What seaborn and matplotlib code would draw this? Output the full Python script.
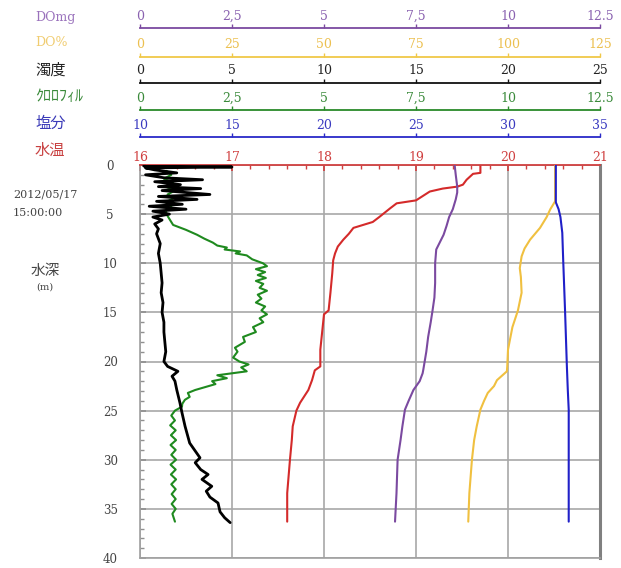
import matplotlib
matplotlib.use('Agg')
import matplotlib.pyplot as plt
import seaborn as sns
from matplotlib.ticker import MultipleLocator

# 水温 (deg C)
temp_depth = [0, 0.8, 0.9, 1.5, 2.0, 2.2, 2.4, 2.7, 3.3, 3.6, 3.9, 4.4, 5.3, 5.8, 6.4,
              7.0, 7.6, 8.3, 9.0, 9.7, 11, 13, 14.8, 15.2, 17, 18.8, 20.5, 20.9, 21.9,
              22.9, 24.2, 25.0, 26.6, 28, 30, 33.4, 36.3]
temp_vals = [19.70, 19.70, 19.62, 19.55, 19.51, 19.45, 19.29, 19.15, 19.05, 19.0, 18.79,
             18.72, 18.6, 18.53, 18.32, 18.27, 18.21, 18.15, 18.12, 18.10, 18.09, 18.07,
             18.05, 18.0, 17.98, 17.96, 17.96, 17.9, 17.87, 17.83, 17.74, 17.70, 17.66,
             17.65, 17.63, 17.6, 17.6]

# DOmg (mg/L)
domg_depth = [0, 1.0, 2.2, 2.8, 3.5, 4.5, 5.3, 6.2, 7.1, 8.6, 10, 12, 13.5, 14.8, 16,
              17.5, 19, 20.8, 21.2, 22.0, 22.9, 24.0, 24.9, 26.6, 28, 30, 33.4, 36.3]
domg_vals = [8.55, 8.58, 8.62, 8.62, 8.58, 8.5, 8.4, 8.33, 8.25, 8.05, 8.02, 8.02, 8.0,
             7.95, 7.9, 7.83, 7.78, 7.7, 7.68, 7.6, 7.43, 7.3, 7.2, 7.13, 7.08, 7.0, 6.97,
             6.93]

# DO%
dopct_depth = [0, 3.7, 4.5, 5.3, 6.4, 7.6, 8.5, 9.3, 10.5, 11.4, 13, 14.8, 16.5, 18.8,
               20.5, 21.0, 21.9, 22.5, 23.2, 24.0, 24.9, 26.6, 28, 30, 33.4, 36.3]
dopct_vals = [112.8, 112.8, 111.5, 110.5, 108.7, 106, 104.5, 103.7, 103.2, 103.5, 103.7,
              102.7, 101.2, 100.0, 99.8, 99.7, 97, 96.2, 94.5, 93.5, 92.5, 91.5, 90.8,
              90.2, 89.5, 89.2]

# 塩分
sal_depth = [0, 3.8, 4.5, 5.3, 6.9, 9.7, 14.8, 20.5, 22.9, 24.9, 30, 36.3]
sal_vals = [32.6, 32.6, 32.75, 32.85, 32.95, 33.0, 33.1, 33.2, 33.25, 33.3, 33.3, 33.3]

# クロロフィル
chl_depth = [0.6, 1.0, 1.4, 1.8, 2.2, 2.6, 3.0, 3.4, 3.8, 4.2, 4.6, 5.0, 5.5, 6.1, 6.6,
             7.1, 7.5, 7.9, 8.2, 8.4, 8.6, 8.8, 9.0, 9.2, 9.6, 10.0, 10.3, 10.6, 10.9,
             11.2, 11.5, 11.8, 12.1, 12.5, 12.8, 13.2, 13.6, 14.0, 14.4, 14.8, 15.2,
             15.6, 16.0, 16.5, 17.0, 17.5, 18.0, 18.6, 19.0, 19.6, 20.0, 20.3, 20.6,
             21.0, 21.4, 21.7, 22.0, 22.3, 22.9, 23.2, 23.6, 23.9, 24.3, 24.6, 25.0,
             25.5, 26.0, 26.5, 27.0, 27.5, 28.0, 28.5, 29.0, 29.5, 30.0, 30.5, 31.0,
             31.5, 32.0, 32.5, 33.0, 33.5, 34.0, 34.5, 35.0, 35.5, 36.3]
chl_vals = [0.72, 0.85, 0.65, 0.9, 0.7, 0.95, 0.75, 0.9, 0.7, 0.85, 0.7, 0.72, 0.8, 0.9,
            1.25, 1.55, 1.75, 1.98, 2.1, 2.36, 2.3, 2.72, 2.6, 2.9, 3.05, 3.34, 3.45,
            3.15, 3.4, 3.2, 3.42, 3.15, 3.35, 3.25, 3.45, 3.2, 3.3, 3.15, 3.4, 3.3,
            3.45, 3.25, 3.35, 3.07, 3.15, 2.8, 2.85, 2.58, 2.65, 2.53, 2.7, 2.95, 2.75,
            2.9, 2.1, 2.36, 1.96, 2.05, 1.5, 1.3, 1.35, 1.22, 1.15, 1.14, 0.95, 0.85,
            0.95, 0.82, 0.97, 0.84, 0.98, 0.83, 0.97, 0.85, 0.98, 0.83, 0.97, 0.84,
            0.98, 0.85, 0.97, 0.86, 0.97, 0.86, 0.97, 0.88, 0.95]

# 濁度
turb_depth = [0.0, 0.1, 0.2, 0.3, 0.5, 0.8, 1.0, 1.3, 1.5, 1.7, 2.0, 2.2, 2.4, 2.6, 2.8,
              3.0, 3.2, 3.5, 3.7, 4.0, 4.2, 4.5, 4.7, 5.0, 5.3, 5.6, 6.0, 6.5, 7, 8, 9,
              10, 11, 12, 13, 14, 15, 16, 17, 18, 19, 20, 20.5, 21, 21.5, 22, 22.9,
              24.2, 25.2, 26.6, 28.3, 29.8, 30.3, 31, 31.5, 32, 32.7, 33.2, 33.8, 34.4,
              35.3, 35.9, 36.4]
turb_vals = [1.0, 0.2, 5.0, 0.3, 0.8, 2.0, 0.3, 1.3, 3.4, 0.8, 2.2, 1.0, 3.3, 1.2, 2.5,
             3.8, 1.0, 3.1, 0.9, 2.3, 0.5, 2.5, 0.7, 1.6, 0.7, 1.2, 0.8, 1.0, 0.9, 1.1,
             1.0, 1.1, 1.15, 1.2, 1.15, 1.25, 1.2, 1.3, 1.3, 1.35, 1.4, 1.3, 1.5, 2.06,
             1.74, 1.9, 2.0, 2.17, 2.28, 2.45, 2.7, 3.26, 3.0, 3.3, 3.7, 3.37, 3.9, 3.6,
             3.8, 4.24, 4.35, 4.6, 4.9]

# top scales: label, limits, ticks, tick labels, colour, text colour, offset (pt)
scales = [
    ('塩分', (10, 35), [10, 15, 20, 25, 30, 35], ['10', '15', '20', '25', '30', '35'],
     '#2a2ac8', '#3a3ac0', 20),
    ('ｸﾛﾛﾌｨﾙ', (0, 12.5), [0, 2.5, 5, 7.5, 10, 12.5], ['0', '2,5', '5', '7,5', '10', '12.5'],
     '#2a8a2a', '#3a8a3a', 39.5),
    ('濁度', (0, 25), [0, 5, 10, 15, 20, 25], ['0', '5', '10', '15', '20', '25'],
     '#111111', '#222222', 59),
    ('DO%', (0, 125), [0, 25, 50, 75, 100, 125], ['0', '25', '50', '75', '100', '125'],
     '#f0c848', '#ecc050', 78),
    ('DOmg', (0, 12.5), [0, 2.5, 5, 7.5, 10, 12.5], ['0', '2,5', '5', '7,5', '10', '12.5'],
     '#7b4aa0', '#8a62b0', 98.5),
]

sns.set_theme(style='white')
serif = ['DejaVu Serif']
cjk = ['Noto Sans CJK JP', 'DejaVu Sans']

fig = plt.figure(figsize=(6.21, 5.68), dpi=100)
ax = fig.add_axes([140 / 621, 10 / 568, 460 / 621, 393 / 568])

twins = {}
for name, lim, ticks, labels, col, tcol, off in scales:
    tw = ax.twiny()
    for s in ['left', 'right', 'bottom']:
        tw.spines[s].set_visible(False)
    tw.spines['top'].set_position(('outward', off))
    tw.spines['top'].set_color(col)
    tw.spines['top'].set_linewidth(1.3)
    tw.set_xlim(*lim)
    tw.set_xticks(ticks)
    tw.set_xticklabels(labels, family=serif, fontsize=9, color=tcol)
    tw.tick_params(axis='x', which='major', top=True, bottom=False, direction='out',
                   length=3, width=1, color=col, pad=1)
    twins[name] = tw

# draw series
sns.lineplot(x=temp_vals, y=temp_depth, sort=False, estimator=None, ax=ax,
             color='#d42a2a', linewidth=1.5)
sns.lineplot(x=turb_vals, y=turb_depth, sort=False, estimator=None, ax=twins['濁度'],
             color='#000000', linewidth=2.0)
sns.lineplot(x=chl_vals, y=chl_depth, sort=False, estimator=None, ax=twins['ｸﾛﾛﾌｨﾙ'],
             color='#1f8a1f', linewidth=1.5)
sns.lineplot(x=domg_vals, y=domg_depth, sort=False, estimator=None, ax=twins['DOmg'],
             color='#7b4aa0', linewidth=1.5)
sns.lineplot(x=dopct_vals, y=dopct_depth, sort=False, estimator=None, ax=twins['DO%'],
             color='#f0c040', linewidth=1.5)
sns.lineplot(x=sal_vals, y=sal_depth, sort=False, estimator=None, ax=twins['塩分'],
             color='#2020c8', linewidth=1.5)

# stacking so that black lies over green and blue over yellow
order = ['ｸﾛﾛﾌｨﾙ', '濁度', 'DOmg', 'DO%', '塩分']
for i, k in enumerate(order):
    twins[k].set_zorder(ax.get_zorder() + 1 + i)
    twins[k].set_xlim(*[s[1] for s in scales if s[0] == k][0])

# main axis (水温 scale, depth)
ax.set_xlim(16, 21)
ax.set_ylim(40, 0)
ax.set_xticks([16, 17, 18, 19, 20, 21])
ax.xaxis.set_minor_locator(MultipleLocator(0.2))
ax.set_yticks(range(0, 41, 5))
ax.yaxis.set_minor_locator(MultipleLocator(1))
ax.xaxis.tick_top()
ax.set_xticklabels(['16', '17', '18', '19', '20', '21'], family=serif, fontsize=9,
                   color='#d04040')
ax.set_yticklabels([str(v) for v in range(0, 41, 5)], family=serif, fontsize=8.5,
                   color='#444444', ha='center')
ax.tick_params(axis='x', which='both', direction='in', color='#d04040', pad=1)
ax.tick_params(axis='x', which='major', length=4)
ax.tick_params(axis='x', which='minor', length=3)
ax.tick_params(axis='y', which='both', direction='in', color='#909090', left=True,
               pad=21.5)
ax.tick_params(axis='y', which='major', length=4)
ax.tick_params(axis='y', which='minor', length=3)
ax.grid(True, which='major', color='#a8a8a8', linewidth=1.2)
ax.set_xlabel('')
ax.set_ylabel('')
for s in ['left', 'bottom']:
    ax.spines[s].set_color('#a0a0a0')
    ax.spines[s].set_linewidth(1.2)
ax.spines['right'].set_color('#808080')
ax.spines['right'].set_linewidth(2.2)
ax.spines['top'].set_color('#d04040')
ax.spines['top'].set_linewidth(1.3)

# left hand labels
left_labels = [
    ('DOmg', 17, '#9a72bc', serif, 9),
    ('DO%', 43, '#f0cc70', serif, 9),
    ('濁度', 70, '#222222', cjk, 11),
    ('ｸﾛﾛﾌｨﾙ', 97, '#3a8a3a', cjk, 11.5),
    ('塩分', 123, '#3a3ab8', cjk, 11),
    ('水温', 150, '#c84040', cjk, 11),
]
for txt, ypx, col, fam, fs in left_labels:
    fig.text(35 / 621, 1 - ypx / 568, txt, color=col, family=fam, fontsize=fs,
             va='center', ha='left')

fig.text(13 / 621, 1 - 195 / 568, '2012/05/17', color='#444444', family=serif,
         fontsize=8, va='center', ha='left')
fig.text(13 / 621, 1 - 213 / 568, '15:00:00', color='#444444', family=serif,
         fontsize=8, va='center', ha='left')
fig.text(45 / 621, 1 - 271 / 568, '水深', color='#444444', family=cjk, fontsize=10.5,
         va='center', ha='center')
fig.text(45 / 621, 1 - 287 / 568, '(m)', color='#444444', family=serif, fontsize=7,
         va='center', ha='center')

fig.savefig('out.png', dpi=100)
